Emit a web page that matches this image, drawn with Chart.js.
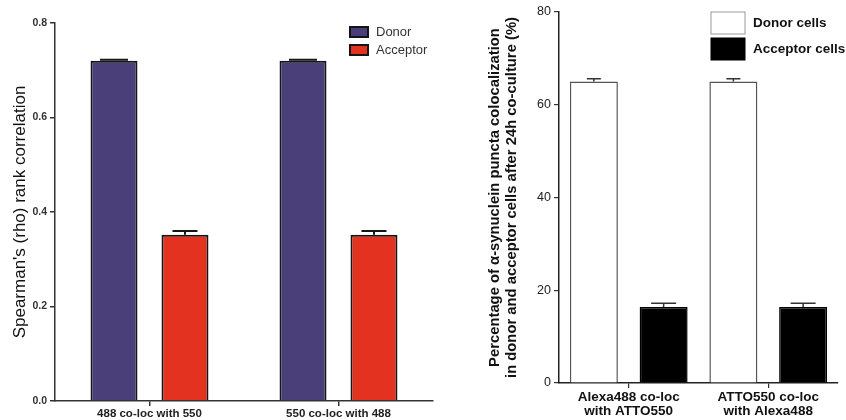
<!DOCTYPE html>
<html>
<head>
<meta charset="utf-8">
<script src="https://cdn.jsdelivr.net/npm/chart.js@4.4.0/dist/chart.umd.min.js"></script>
<style>
  body { margin: 0; background: #fff; }
  #wrap { position: relative; width: 846px; height: 420px; }
  #leftBox { position: absolute; left: 0; top: 0; width: 465px; height: 420px; }
  #rightBox { position: absolute; left: 465px; top: 0; width: 381px; height: 420px; }
</style>
</head>
<body>
<div id="wrap">
  <div id="leftBox"><canvas id="leftChart" width="465" height="420"></canvas></div>
  <div id="rightBox"><canvas id="rightChart" width="381" height="420"></canvas></div>
</div>
<script>
// left panel data
const leftCategories = ["488 co-loc with 550", "550 co-loc with 488"];
const leftDonor = [0.72, 0.72];
const leftDonorErr = [0.002, 0.002];
const leftAcceptor = [0.352, 0.352];
const leftAcceptorErr = [0.008, 0.008];
const leftTicks = [0, 0.8, 0.2];

// right panel data
const rightCategories = [["Alexa488 co-loc", "with ATTO550"], ["ATTO550 co-loc", "with Alexa488"]];
const rightDonor = [65, 65];
const rightDonorErr = [0.6, 0.6];
const rightAcceptor = [16.4, 16.4];
const rightAcceptorErr = [0.8, 0.8];
const rightTicks = [0, 80, 20];

const FONT = "'Liberation Sans', Arial, Helvetica, sans-serif";

// error bars (upper half only) drawn from the errs arrays on each dataset
const errorBars = {
  id: "errorBars",
  afterDatasetsDraw(chart, args, opts) {
    const ctx = chart.ctx;
    const yScale = chart.scales.y;
    chart.data.datasets.forEach((ds, i) => {
      const meta = chart.getDatasetMeta(i);
      meta.data.forEach((bar, j) => {
        const top = yScale.getPixelForValue(ds.data[j] + ds.errs[j]);
        const cap = opts.caps[i];
        ctx.save();
        ctx.strokeStyle = opts.color;
        ctx.lineWidth = opts.width;
        ctx.beginPath();
        ctx.moveTo(bar.x, bar.y);
        ctx.lineTo(bar.x, top);
        ctx.moveTo(bar.x - cap / 2, top);
        ctx.lineTo(bar.x + cap / 2, top);
        ctx.stroke();
        ctx.restore();
      });
    });
  }
};

// simple boxed legend, stacked vertically
const boxLegend = {
  id: "boxLegend",
  afterDraw(chart, args, o) {
    const ctx = chart.ctx;
    chart.data.datasets.forEach((ds, i) => {
      const y = o.y + i * o.step;
      ctx.save();
      ctx.fillStyle = ds.backgroundColor;
      ctx.fillRect(o.x, y, o.w, o.h);
      ctx.strokeStyle = o.stroke[i];
      ctx.lineWidth = o.lw;
      ctx.strokeRect(o.x, y, o.w, o.h);
      ctx.fillStyle = o.textColor;
      ctx.font = o.font;
      ctx.textBaseline = "middle";
      ctx.fillText(ds.label, o.x + o.w + o.textGap, y + o.h / 2 + 0.5);
      ctx.restore();
    });
  }
};

const leftChart = new Chart(document.getElementById("leftChart"), {
  type: "bar",
  data: {
    labels: leftCategories,
    datasets: [
      { label: "Donor", data: leftDonor, errs: leftDonorErr, backgroundColor: "#4a3f78", borderColor: "#151515", borderWidth: 2 },
      { label: "Acceptor", data: leftAcceptor, errs: leftAcceptorErr, backgroundColor: "#e3321f", borderColor: "#151515", borderWidth: 2 }
    ]
  },
  options: {
    responsive: false,
    animation: false,
    categoryPercentage: 0.751,
    barPercentage: 0.662,
    layout: { padding: { top: 23, right: 32, bottom: 0, left: 0 } },
    plugins: {
      legend: { display: false },
      tooltip: { enabled: false },
      errorBars: { caps: [28, 25], color: "#151515", width: 2 },
      boxLegend: { x: 350, y: 27, w: 18, h: 10, step: 18, stroke: ["#151515", "#151515"], lw: 2,
        textGap: 8, font: "13px " + FONT, textColor: "#333" }
    },
    scales: {
      x: {
        offset: true,
        grid: { offset: false, drawOnChartArea: false, tickLength: 5, color: "#333", lineWidth: 1.5 },
        border: { color: "#333", width: 1.5 },
        ticks: { color: "#222", padding: 1, font: { family: FONT, size: 11.5, weight: "bold" } },
        afterFit: s => { s.height = 19; }
      },
      y: {
        min: leftTicks[0],
        max: leftTicks[1],
        ticks: { stepSize: leftTicks[2], color: "#333", padding: 3,
          font: { family: FONT, size: 10.5, weight: "bold" },
          callback: v => v.toFixed(1) },
        grid: { drawOnChartArea: false, tickLength: 5, color: "#333", lineWidth: 1.5 },
        border: { color: "#333", width: 1.5 },
        title: { display: true, text: "Spearman's (rho) rank correlation", color: "#111",
          font: { family: FONT, size: 17 }, padding: { top: 10, bottom: 0 } },
        afterFit: s => { s.width = 55; }
      }
    }
  },
  plugins: [errorBars, boxLegend]
});

const rightChart = new Chart(document.getElementById("rightChart"), {
  type: "bar",
  data: {
    labels: rightCategories,
    datasets: [
      { label: "Donor cells", data: rightDonor, errs: rightDonorErr, backgroundColor: "#ffffff", borderColor: "#555", borderWidth: 1.5 },
      { label: "Acceptor cells", data: rightAcceptor, errs: rightAcceptorErr, backgroundColor: "#000000", borderColor: "#000", borderWidth: 1.5 }
    ]
  },
  options: {
    responsive: false,
    animation: false,
    categoryPercentage: 1.0,
    barPercentage: 0.688,
    layout: { padding: { top: 12, right: 8, bottom: 0, left: 0 } },
    plugins: {
      legend: { display: false },
      tooltip: { enabled: false },
      errorBars: { caps: [14, 25], color: "#333", width: 1.5 },
      boxLegend: { x: 246, y: 12, w: 34, h: 22, step: 26, stroke: ["#999", "#000"], lw: 1,
        textGap: 8, font: "bold 13.5px " + FONT, textColor: "#111" }
    },
    scales: {
      x: {
        offset: true,
        grid: { offset: false, drawOnChartArea: false, tickLength: 5, color: "#333", lineWidth: 1.2 },
        border: { color: "#222", width: 1.5 },
        ticks: { color: "#111", padding: 2, font: { family: FONT, size: 13.5, weight: "bold", lineHeight: 1.05 } },
        afterFit: s => { s.height = 37; }
      },
      y: {
        min: rightTicks[0],
        max: rightTicks[1],
        ticks: { stepSize: rightTicks[2], color: "#222", padding: 3, font: { family: FONT, size: 12.5 } },
        grid: { drawOnChartArea: false, tickLength: 5, color: "#333", lineWidth: 1.2 },
        border: { color: "#222", width: 1.5 },
        title: { display: true,
          text: ["Percentage of \u03b1-synuclein puncta colocalization", "in donor and acceptor cells after 24h co-culture (%)"],
          color: "#111", font: { family: FONT, size: 14.8, weight: "bold", lineHeight: 1.15 }, padding: { top: 21.5, bottom: 0 } },
        afterFit: s => { s.width = 94; }
      }
    }
  },
  plugins: [errorBars, boxLegend]
});
</script>
</body>
</html>
